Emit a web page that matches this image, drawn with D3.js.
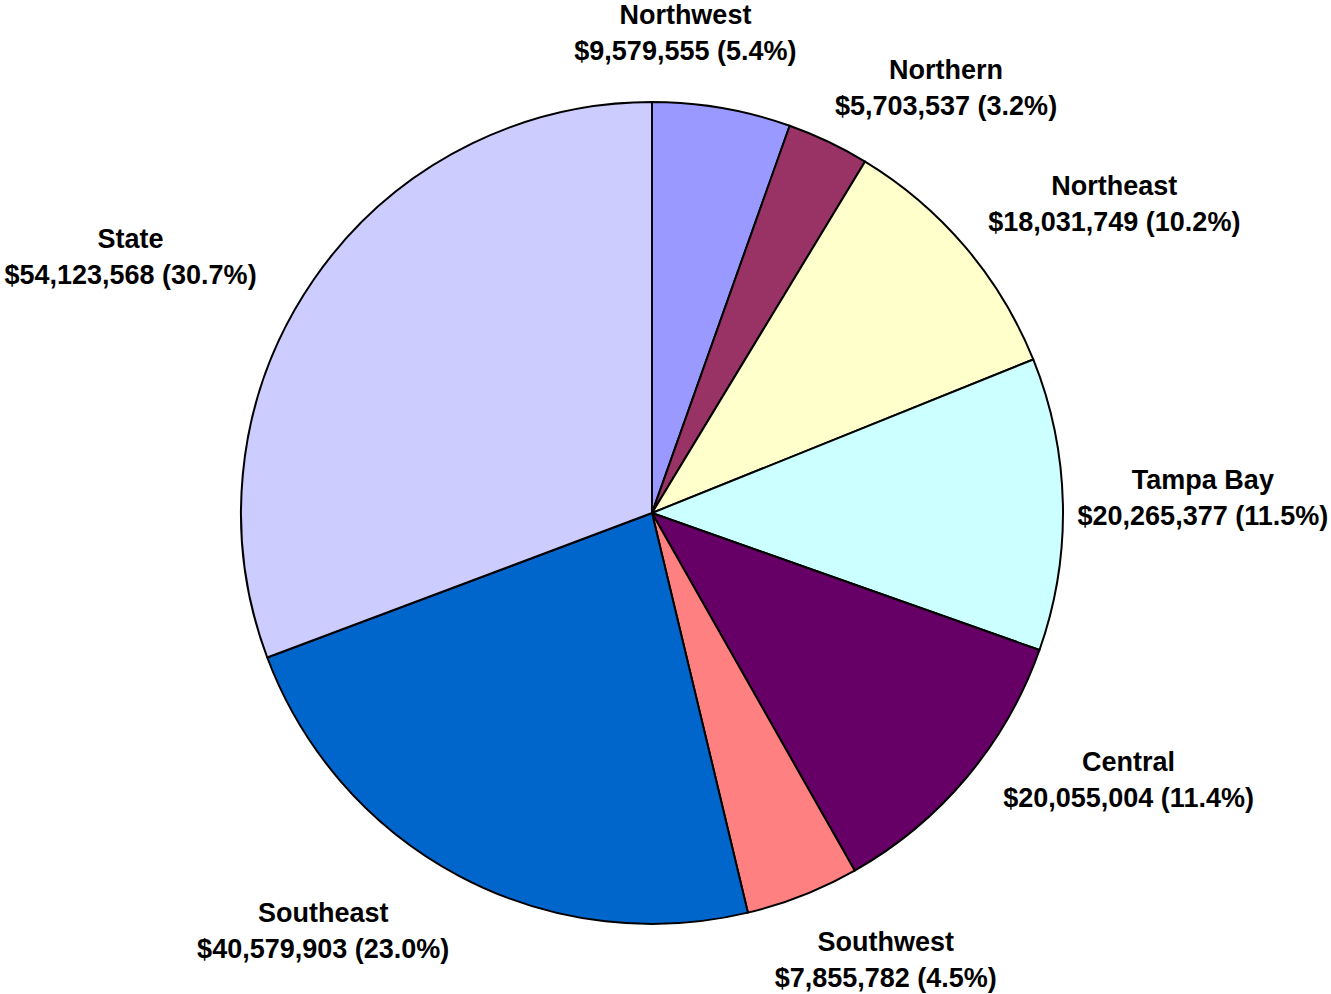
<!DOCTYPE html>
<html>
<head>
<meta charset="utf-8">
<script src="https://cdn.jsdelivr.net/npm/d3@7"></script>
<style>
  body { margin: 0; background: #fff; }
  text { font-family: "Liberation Sans", Arial, sans-serif; font-weight: bold; }
</style>
</head>
<body>
<div id="chart"></div>
<script>
// pie of funding by region, clockwise from 12 o'clock
const regions = ["Northwest", "Northern", "Northeast", "Tampa Bay", "Central", "Southwest", "Southeast", "State"];
const amounts = [9579555, 5703537, 18031749, 20265377, 20055004, 7855782, 40579903, 54123568];
const colors  = ["#9999FF", "#993366", "#FFFFCC", "#CCFFFF", "#660066", "#FF8080", "#0066CC", "#CCCCFF"];

// label nudges off the plain polar spot (excel best-fit placement)
const labelNudge = [[-55, 32], [71, 44], [66, 27], [31, -4], [78, -67], [43, -37], [-85, -42], [-94, 40]];

const width = 1331;
const height = 994;
const cx = 652, cy = 513;
const radius = 411;
const labelR = 520;

const svg = d3.select("#chart")
  .append("svg")
  .attr("width", width)
  .attr("height", height);

const data = regions.map((r, i) => ({name: r, value: amounts[i], color: colors[i], i: i}));
const total = d3.sum(amounts);

const pie = d3.pie().value(d => d.value).sort(null);
const arc = d3.arc().innerRadius(0).outerRadius(radius);

const g = svg.append("g").attr("transform", `translate(${cx},${cy})`);

const arcs = pie(data);

g.selectAll("path")
  .data(arcs)
  .enter()
  .append("path")
    .attr("d", arc)
    .attr("fill", d => d.data.color)
    .attr("stroke", "#000")
    .attr("stroke-width", 2)
    .attr("stroke-linejoin", "round");

const money = d3.format("$,");
const pct = d3.format(".1%");

const labels = g.selectAll("g.lbl")
  .data(arcs)
  .enter()
  .append("g")
    .attr("class", "lbl")
    .attr("transform", d => {
      const a = (d.startAngle + d.endAngle) / 2;
      const n = labelNudge[d.data.i];
      const x = Math.sin(a) * labelR + n[0];
      const y = -Math.cos(a) * labelR + n[1];
      return `translate(${x},${y})`;
    });

labels.append("text")
  .attr("text-anchor", "middle")
  .attr("y", -18)
  .attr("dy", "0.35em")
  .attr("font-size", "27px")
  .text(d => d.data.name);

labels.append("text")
  .attr("text-anchor", "middle")
  .attr("y", 18)
  .attr("dy", "0.35em")
  .attr("font-size", "27px")
  .text(d => money(d.data.value) + " (" + pct(d.data.value / total) + ")");
</script>
</body>
</html>
